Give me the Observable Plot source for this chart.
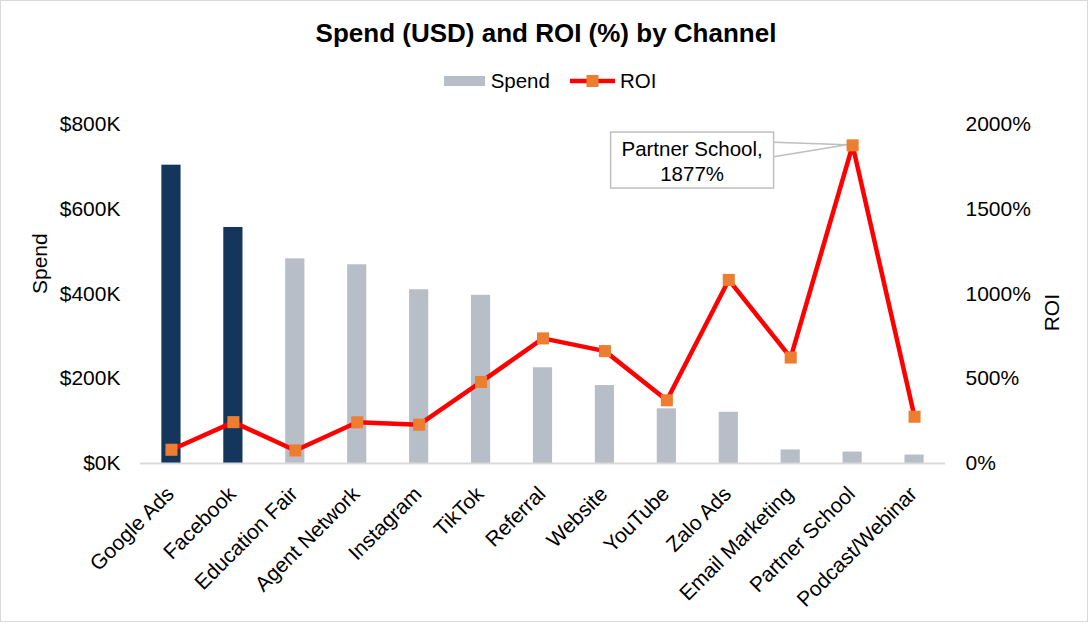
<!DOCTYPE html>
<html>
<head>
<meta charset="utf-8">
<script src="https://cdn.jsdelivr.net/npm/d3@7"></script>
<script src="https://cdn.jsdelivr.net/npm/@observablehq/plot@0.6"></script>
<style>
  body { margin: 0; background: #fff; font-family: "Liberation Sans", Arial, sans-serif; color: #000; }
  #wrap { position: relative; width: 1092px; height: 625px; overflow: hidden; background: #fff; }
  #frame { position: absolute; left: 0; top: 0; width: 1086px; height: 620px; border: 1.5px solid #d9d9d9; pointer-events: none; }
  #title { position: absolute; left: 0; width: 1092px; top: 18px; line-height: 30px; text-align: center; font-weight: bold; font-size: 26px; }
  #legend { position: absolute; left: 4px; width: 1092px; top: 69px; height: 24px; display: flex; justify-content: center; align-items: center; font-size: 20.5px; }
  #legend .item { display: flex; align-items: center; }
  #chart { position: absolute; left: 0; top: 100px; }
</style>
</head>
<body>
<div id="wrap">
  <div id="title">Spend (USD) and ROI (%) by Channel</div>
  <div id="legend">
    <div class="item"><svg width="41" height="10" style="margin-right:6px"><rect width="41" height="10" fill="#B8BEC7"></rect></svg><span>Spend</span></div>
    <div class="item" style="margin-left:20px"><svg width="45" height="14" style="margin-right:5px"><line x1="0" x2="45" y1="7" y2="7" stroke="#FF0000" stroke-width="4.5"></line><rect x="16.5" y="1" width="12" height="12" fill="#ED7D31"></rect></svg><span>ROI</span></div>
  </div>
  <div id="chart"></div>
  <div id="frame"></div>
</div>
<script>
// ---- data ----
const channels = ["Google Ads", "Facebook", "Education Fair", "Agent Network", "Instagram", "TikTok", "Referral", "Website", "YouTube", "Zalo Ads", "Email Marketing", "Partner School", "Podcast/Webinar"];
const spend = [704000, 557000, 483000, 469000, 410000, 397000, 226000, 184000, 129000, 121000, 32000, 27000, 20000];
const roi = [81, 244, 77, 243, 229, 481, 738, 663, 373, 1083, 625, 1877, 276];
const highlight = ["Google Ads", "Facebook"];
const spendTicks = [0, 200000, 400000, 600000, 800000];
const roiTicks = [0, 500, 1000, 1500, 2000];
const calloutChannel = "Partner School";

// ---- build ----
const data = channels.map((c, i) => ({channel: c, spend: spend[i], roi: roi[i]}));
const k = spendTicks[spendTicks.length - 1] / roiTicks[roiTicks.length - 1]; // ROI -> spend axis factor
const FONT = '"Liberation Sans", Arial, sans-serif';

function callout(index, scales) {
  const sx = scales.x, sy = scales.y;
  const bw = typeof sx.bandwidth === "function" ? sx.bandwidth() : 0;
  const i = channels.indexOf(calloutChannel);
  const px = sx(calloutChannel) + bw / 2;
  const py = sy(roi[i] * k);
  const g = d3.create("svg:g");
  const bx0 = px - 241.5, bx1 = px - 78.5, by0 = py - 12.8, by1 = py + 43.2;
  g.append("path")
    .attr("d", `M${bx1},${py - 2.5}L${px - 5},${py}L${bx1},${py + 12}`)
    .attr("fill", "none").attr("stroke", "#BFBFBF").attr("stroke-width", 1.5);
  g.append("rect")
    .attr("x", bx0).attr("y", by0).attr("width", bx1 - bx0).attr("height", by1 - by0)
    .attr("fill", "#fff").attr("stroke", "#BFBFBF").attr("stroke-width", 1.5);
  const t = g.append("text").attr("text-anchor", "middle").attr("font-size", 20.5)
    .attr("font-family", FONT).attr("fill", "#000");
  t.append("tspan").attr("x", (bx0 + bx1) / 2).attr("y", py + 11).text(calloutChannel + ",");
  t.append("tspan").attr("x", (bx0 + bx1) / 2).attr("y", py + 36.5).text(roi[i] + "%");
  return g.node();
}

const chart = Plot.plot({
  width: 1092,
  height: 525,
  marginTop: 24,
  marginBottom: 162,
  marginLeft: 140,
  marginRight: 147,
  style: {fontFamily: FONT, fontSize: "21px", color: "#000", background: "transparent", overflow: "visible"},
  x: {domain: channels, paddingInner: 0.69, paddingOuter: 0.345, round: false, label: null},
  y: {domain: [spendTicks[0], spendTicks[spendTicks.length - 1]], label: null},
  color: {type: "identity"},
  marks: [
    Plot.axisY(spendTicks, {anchor: "left", tickSize: 0, tickPadding: 20, tickFormat: d => "$" + d / 1000 + "K", label: null}),
    Plot.axisY(roiTicks.map(v => v * k), {anchor: "right", tickSize: 0, tickPadding: 20, tickFormat: d => Math.round(d / k) + "%", label: null}),
    Plot.axisX({tickSize: 0, tickPadding: 27, dx: -1, tickRotate: -45, label: null}),
    Plot.barY(data, {x: "channel", y: "spend", fill: d => highlight.includes(d.channel) ? "#14365C" : "#B8BEC7"}),
    Plot.ruleY([0], {stroke: "#D9D9D9", strokeWidth: 2}),
    Plot.line(data, {x: "channel", y: d => d.roi * k, stroke: "#FF0000", strokeWidth: 4.5}),
    callout,
    Plot.dot(data, {x: "channel", y: d => d.roi * k, symbol: "square", r: 6.8, fill: "#ED7D31"}),
    Plot.text(["Spend"], {text: d => d, frameAnchor: "left", dx: -100, rotate: -90, fontSize: 21}),
    Plot.text(["ROI"], {text: d => d, frameAnchor: "right", dx: 107, rotate: -90, fontSize: 21})
  ]
});
document.getElementById("chart").appendChild(chart);
</script>
</body>
</html>
